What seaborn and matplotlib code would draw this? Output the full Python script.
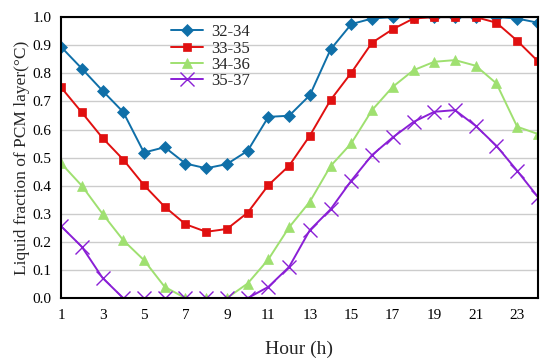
import numpy as np
import pandas as pd
import matplotlib
matplotlib.use("Agg")
import matplotlib.pyplot as plt
import seaborn as sns

hours = list(range(1, 25))

s_32_34 = [0.894, 0.817, 0.738, 0.662, 0.518, 0.537, 0.479, 0.462, 0.477, 0.524,
           0.645, 0.649, 0.722, 0.885, 0.975, 0.995, 1.0, 1.0, 1.0, 1.0,
           1.0, 1.0, 0.995, 0.98]
s_33_35 = [0.75, 0.661, 0.57, 0.493, 0.402, 0.325, 0.263, 0.236, 0.246, 0.304,
           0.402, 0.471, 0.578, 0.705, 0.802, 0.909, 0.957, 0.995, 1.0, 1.0,
           1.0, 0.98, 0.916, 0.843]
s_34_36 = [0.48, 0.40, 0.30, 0.206, 0.135, 0.04, 0.0, 0.0, 0.0, 0.052,
           0.138, 0.252, 0.343, 0.47, 0.551, 0.669, 0.752, 0.811, 0.841, 0.847,
           0.827, 0.764, 0.61, 0.584]
s_35_37 = [0.256, 0.183, 0.072, 0.0, 0.0, 0.0, 0.0, 0.0, 0.0, 0.0,
           0.04, 0.111, 0.242, 0.316, 0.418, 0.509, 0.572, 0.627, 0.663, 0.669,
           0.613, 0.542, 0.453, 0.36]

series_names = ["32-34", "33-35", "34-36", "35-37"]
series_values = [s_32_34, s_33_35, s_34_36, s_35_37]
colors = ["#0f6fa8", "#e01010", "#9fe070", "#8a1fd6"]
markers = ["D", "s", "^", "x"]
msizes = [6, 6, 7, 10]

sns.set_style("white")
plt.rcParams["font.family"] = ["Liberation Serif", "DejaVu Serif"]

fig = plt.figure(figsize=(5.5, 3.64), dpi=100)
ax = fig.add_axes([0.111, 0.181, 0.867, 0.772])

for name, vals, c, m, ms in zip(series_names, series_values, colors, markers, msizes):
    df = pd.DataFrame({"hour": hours, "value": vals})
    sns.lineplot(data=df, x="hour", y="value", ax=ax, color=c, marker=m,
                 markersize=ms, markeredgecolor=c, markeredgewidth=1 if m == "x" else 0.5,
                 linewidth=1.4, label=name)

ax.set_xlim(1, 24)
ax.set_ylim(0, 1.0)
ax.set_xticks(range(1, 24, 2))
ax.set_yticks(np.arange(0, 1.01, 0.1))
ax.set_yticklabels([f"{v:.1f}" for v in np.arange(0, 1.01, 0.1)])
ax.yaxis.grid(True, color="#cccccc", linewidth=1)
ax.set_axisbelow(True)
ax.tick_params(direction="in", length=4, width=1, labelsize=11, colors="black")
ax.tick_params(axis="x", pad=8)
ax.tick_params(axis="y", pad=7)
for sp in ax.spines.values():
    sp.set_color("black")
    sp.set_linewidth(1.5)

ax.set_xlabel("Hour (h)", fontsize=14, labelpad=13)
ax.set_ylabel("Liquid fraction of PCM layer(\u00b0C)", fontsize=12.5, labelpad=2)

ax.legend(loc="upper left", bbox_to_anchor=(0.21, 1.01), frameon=False,
          fontsize=12, handlelength=1.9, handletextpad=0.5,
          labelspacing=0.02, borderaxespad=0.2)

fig.savefig("out.png", dpi=100)
